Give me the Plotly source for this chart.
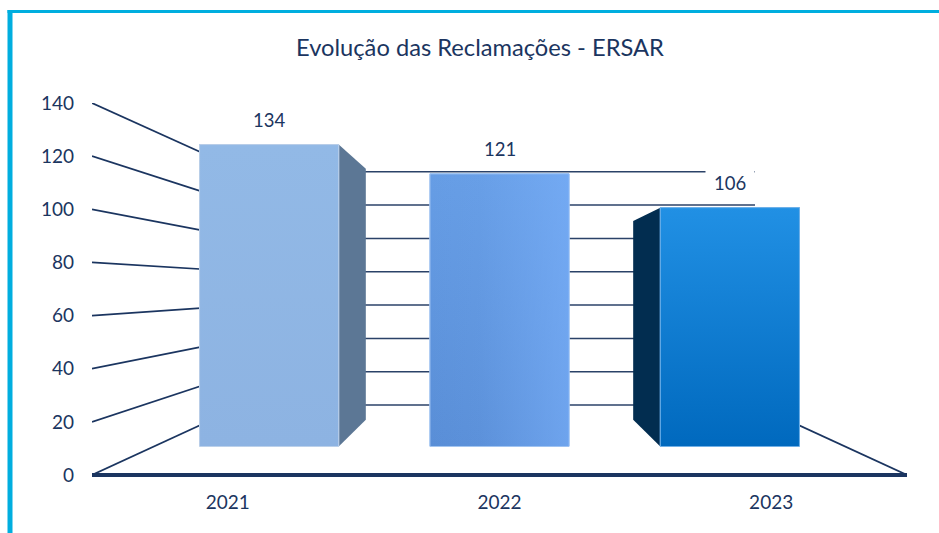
import plotly.graph_objects as go

# Data
categories = ["2021", "2022", "2023"]
values = [134, 121, 106]
y_ticks = [0, 20, 40, 60, 80, 100, 120, 140]

# Colours
NAVY = "#1B3560"
GRID = "#2B4268"
FRAME = "#00AEDF"
SIDE_COLORS = ["#5C7795", None, "#022D50"]
BAR_COLORS = ["#8FB5E4", "#659CE6", "#1480D6"]
BAR_EDGES = ["#B9CEE8", "#A5C6F2", "#6FB0E8"]
BAR_GRADIENTS = [
    [[0, "#8DB3E2"], [1, "#92B9E6"]],
    [[0, "#598ED7"], [1, "#669DE5"]],
    [[0, "#0069BE"], [1, "#2190E4"]],
]
BAR_SHEEN = [None, [[0, "rgba(124,178,252,0)"], [0.35, "rgba(124,178,252,0.08)"], [1, "rgba(124,178,252,0.6)"]], None]

# Perspective of the 3-D frame (axis units of the front plane)
X_DOM = (92 / 939, 907 / 939)
Y_DOM = ((533 - 475) / 533, (533 - 103) / 533)
X_RANGE = (-0.5, 2.5)
Y_RANGE = (0, 140)
VX, VY = 1.0, 70.6
S_FRONT, S_BAR_FRONT, S_BAR_BACK, S_WALL = 1.0, 0.848, 0.705, 0.627
BAR_W = 0.604


def px(c, s):
    return VX + (c - VX) * s


def py(v, s):
    return VY + (v - VY) * s


def xfrac(x):
    return X_DOM[0] + (x - X_RANGE[0]) / (X_RANGE[1] - X_RANGE[0]) * (X_DOM[1] - X_DOM[0])


def yfrac(y):
    return Y_DOM[0] + (y - Y_RANGE[0]) / (Y_RANGE[1] - Y_RANGE[0]) * (Y_DOM[1] - Y_DOM[0])


fig = go.Figure()

# Back wall grid
gx, gy = [], []
for v in y_ticks:
    gx += [px(X_RANGE[0], S_WALL), px(X_RANGE[1], S_WALL), None]
    gy += [py(v, S_WALL), py(v, S_WALL), None]
fig.add_trace(go.Scatter(x=gx, y=gy, mode="lines", line=dict(color=GRID, width=1.5), hoverinfo="skip"))

# Left wall and floor edges
lx, ly = [], []
for v in y_ticks:
    lx += [px(X_RANGE[0], S_FRONT), px(X_RANGE[0], S_WALL), None]
    ly += [py(v, S_FRONT), py(v, S_WALL), None]
lx += [px(X_RANGE[1], S_FRONT), px(X_RANGE[1], S_WALL), None]
ly += [py(0, S_FRONT), py(0, S_WALL), None]
fig.add_trace(go.Scatter(x=lx, y=ly, mode="lines", line=dict(color=NAVY, width=1.7), hoverinfo="skip"))

# Side faces
for i, v in enumerate(values):
    if SIDE_COLORS[i] is None:
        continue
    edge = i + (BAR_W / 2 if i < 1 else -BAR_W / 2)
    fig.add_trace(go.Scatter(
        x=[px(edge, S_BAR_FRONT), px(edge, S_BAR_FRONT), px(edge, S_BAR_BACK), px(edge, S_BAR_BACK), px(edge, S_BAR_FRONT)],
        y=[py(0, S_BAR_FRONT), py(v, S_BAR_FRONT), py(v, S_BAR_BACK), py(0, S_BAR_BACK), py(0, S_BAR_FRONT)],
        mode="lines", fill="toself", fillcolor=SIDE_COLORS[i], line=dict(width=0), hoverinfo="skip",
    ))

# Front faces
fig.add_trace(go.Bar(
    x=[0, 1, 2], y=values, width=BAR_W, xaxis="x2", yaxis="y2",
    marker=dict(color=BAR_COLORS, line=dict(color=BAR_EDGES, width=1)),
    hovertemplate="%{y}<extra></extra>",
))
for i, v in enumerate(values):
    fx = [i - BAR_W / 2, i + BAR_W / 2, i + BAR_W / 2, i - BAR_W / 2, i - BAR_W / 2]
    fy = [0, 0, v, v, 0]
    fig.add_trace(go.Scatter(
        x=fx, y=fy, xaxis="x2", yaxis="y2", mode="lines", fill="toself",
        fillgradient=dict(type="vertical", colorscale=BAR_GRADIENTS[i]),
        line=dict(color=BAR_EDGES[i], width=1), hoverinfo="skip",
    ))
    if BAR_SHEEN[i]:
        fig.add_trace(go.Scatter(
            x=fx, y=fy, xaxis="x2", yaxis="y2", mode="lines", fill="toself",
            fillgradient=dict(type="horizontal", colorscale=BAR_SHEEN[i]),
            line=dict(width=0), hoverinfo="skip",
        ))

# White box behind the last label, then the value labels
annotations = [dict(
    x=len(values) - 1, y=values[-1], xref="x2", yref="y2", text=" ", showarrow=False,
    bgcolor="white", width=48, height=33, borderpad=0, yshift=22.5, xanchor="center", yanchor="middle",
)]
for i, v in enumerate(values):
    annotations.append(dict(
        x=i, y=v, xref="x2", yref="y2", text=str(v), showarrow=False,
        font=dict(family="Lato", size=18.5, color=NAVY), xanchor="center", yanchor="middle", yshift=25,
    ))

fig.update_layout(
    width=939, height=533, autosize=False, showlegend=False, barmode="overlay",
    margin=dict(l=0, r=0, t=0, b=0, autoexpand=False), paper_bgcolor="white", plot_bgcolor="rgba(0,0,0,0)",
    font=dict(family="Lato", color=NAVY),
    title=dict(
        text="Evolução das Reclamações - ERSAR", x=480 / 939, xanchor="center",
        y=1 - 48 / 533, yanchor="middle", font=dict(family="Lato", size=23.7, color=NAVY),
    ),
    xaxis=dict(
        domain=list(X_DOM), range=list(X_RANGE), tickmode="array", tickvals=[0, 1, 2], ticktext=categories,
        showgrid=False, zeroline=False, showline=False, ticks="",
        automargin=False, ticklabelstandoff=14, tickfont=dict(family="Lato", size=19, color=NAVY), anchor="y",
    ),
    yaxis=dict(
        domain=list(Y_DOM), range=list(Y_RANGE), tickmode="array", tickvals=y_ticks,
        showgrid=False, zeroline=True, zerolinecolor=NAVY, zerolinewidth=3.5, showline=False, ticks="",
        automargin=False, ticklabelstandoff=17, tickfont=dict(family="Lato", size=19, color=NAVY), anchor="x",
    ),
    xaxis2=dict(
        domain=[xfrac(px(X_RANGE[0], S_BAR_FRONT)), xfrac(px(X_RANGE[1], S_BAR_FRONT))], range=list(X_RANGE),
        visible=False, anchor="y2", automargin=False,
    ),
    yaxis2=dict(
        domain=[yfrac(py(Y_RANGE[0], S_BAR_FRONT)), yfrac(py(Y_RANGE[1], S_BAR_FRONT))], range=list(Y_RANGE),
        visible=False, anchor="x2", automargin=False,
    ),
    annotations=annotations,
    shapes=[
        dict(type="rect", xref="paper", yref="paper", x0=7.5 / 939, x1=1, y0=1 - 13 / 533, y1=1 - 10 / 533,
             fillcolor=FRAME, line=dict(width=0)),
        dict(type="rect", xref="paper", yref="paper", x0=7.5 / 939, x1=12.5 / 939, y0=0, y1=1 - 10 / 533,
             fillcolor=FRAME, line=dict(width=0)),
    ],
)

fig.write_html("out.html", config=dict(displayModeBar=False),
               post_script="document.body.style.margin='0';")
